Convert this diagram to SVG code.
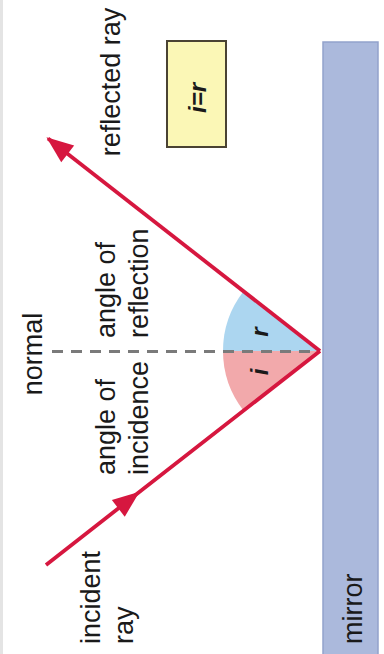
<svg xmlns="http://www.w3.org/2000/svg" width="384" height="654" viewBox="0 0 384 654">
<style>
.lbl{font-family:"Liberation Sans",Arial,sans-serif;font-size:27px;fill:#1a1a1a}
.ang{font-family:"Liberation Sans",Arial,sans-serif;font-size:24px;font-weight:bold;font-style:italic;fill:#1a1a1a}
.ray{fill:none;stroke:#d6173f;stroke-width:3.8}
</style>
<defs>
<marker id="ah" markerUnits="userSpaceOnUse" markerWidth="32" markerHeight="26" viewBox="-28 -13 32 26" refX="0" refY="0" orient="auto">
<path d="M2,0 L-25,-10.5 L-25,10.5 Z" fill="#d6173f"/>
</marker>
</defs>
<rect x="0" y="0" width="384" height="654" fill="#ffffff"/>
<rect x="0" y="0" width="3" height="654" fill="#e4e4e4"/>
<g id="mirror">
<rect x="323" y="42" width="55" height="616" fill="#abb9dc" stroke="#93a2cb" stroke-width="1.5"/>
<text class="lbl" transform="translate(362,644) rotate(-90)">mirror</text>
</g>
<g id="angle-r">
<path d="M320,351 L223,351 A97,97 0 0 1 243.6,291.3 Z" fill="#acd6f0"/>
<text class="ang" text-anchor="middle" transform="translate(268,332) rotate(-90)">r</text>
</g>
<g id="angle-i">
<path d="M320,351 L223,351 A97,97 0 0 0 243.6,410.7 Z" fill="#f2a9ab"/>
<text class="ang" text-anchor="middle" transform="translate(268,372) rotate(-90)">i</text>
</g>
<g id="normal">
<line x1="52" y1="351.5" x2="320" y2="351.5" stroke="#7a7a7a" stroke-width="3" stroke-dasharray="11,8"/>
<text class="lbl" text-anchor="middle" transform="translate(42,354) rotate(-90)">normal</text>
</g>
<g id="connectors">
<line class="ray" x1="320" y1="351" x2="48" y2="138.5" marker-end="url(#ah)"/>
<polyline class="ray" points="46,565 138,493 320,351" marker-mid="url(#ah)"/>
</g>
<g id="reflected-label">
<text class="lbl" text-anchor="middle" transform="translate(120,82) rotate(-90)">reflected ray</text>
</g>
<g id="incident-label">
<text class="lbl" transform="translate(100,644) rotate(-90)">incident</text>
<text class="lbl" transform="translate(133,644) rotate(-90)">ray</text>
</g>
<g id="reflection-label">
<text class="lbl" transform="translate(115,338) rotate(-90)">angle of</text>
<text class="lbl" transform="translate(148,338) rotate(-90)">reflection</text>
</g>
<g id="incidence-label">
<text class="lbl" transform="translate(115,475) rotate(-90)">angle of</text>
<text class="lbl" transform="translate(148,475) rotate(-90)">incidence</text>
</g>
<g id="law">
<rect x="167" y="41" width="59" height="106" fill="#fbf7b6" stroke="#4a4333" stroke-width="2"/>
<text class="ang" text-anchor="middle" font-size="26" transform="translate(206,98) rotate(-90)">i=r</text>
</g>
</svg>
